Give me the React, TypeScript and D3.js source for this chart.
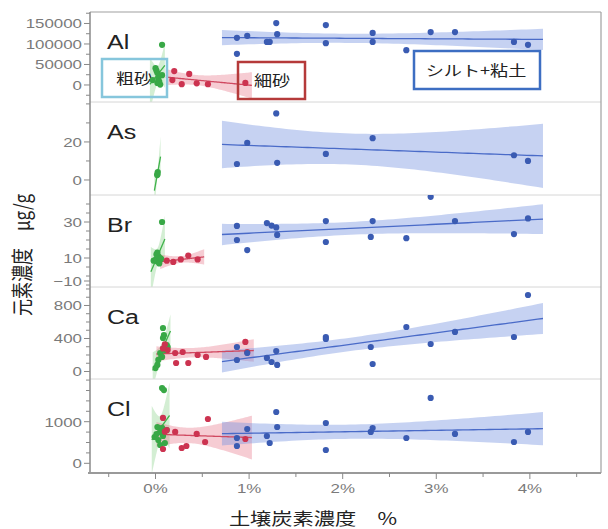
import React from 'react';
import * as d3 from 'd3';

type P = [number, number];

// ---------- data ----------
const elementNames = ['Al', 'As', 'Br', 'Ca', 'Cl'];
const xTickValues = [0, 1, 2, 3, 4];
const xMinorTicks = [-0.5, 0.5, 1.5, 2.5, 3.5, 4.5];
const xDomain = [-0.7, 4.76];

const alDomain = [-41500, 178000];
const asDomain = [-7.9, 41];
const brDomain = [-6.1, 45];
const caDomain = [-91, 1024];
const clDomain = [-233, 2026];

const alTicks = [0, 50000, 100000, 150000];
const asTicks = [0, 20];
const brTicks = [-10, 10, 30];
const caTicks = [0, 400, 800];
const clTicks = [0, 1000];
const minorSteps = [25000, 10, 5, 100, 250];

// 粗砂 (coarse sand)
const alCoarse: P[] = [[0.07, 98000], [0.0, 41000], [0.02, 29000], [0.03, 17000], [0.02, 5000], [0.05, 1000], [-0.03, 12000], [0.07, 24000], [0.01, 35000], [0.04, 8000]];
const asCoarse: P[] = [[0.018, 2.6], [0.024, 4.2], [0.02, 3.0]];
const brCoarse: P[] = [[0.07, 30], [0.0, 9], [0.02, 8], [0.03, 11], [0.01, 12], [0.04, 7], [0.05, 10], [-0.02, 8.5], [0.06, 9.5], [0.02, 13]];
const caCoarse: P[] = [[0.08, 527], [0.09, 440], [0.12, 320], [0.1, 260], [0.05, 224], [0.02, 79], [0.0, 42], [0.03, 140], [0.07, 176], [0.13, 297], [0.08, 406]];
const clCoarse: P[] = [[0.07, 1810], [0.09, 1760], [0.02, 873], [0.05, 753], [0.08, 656], [0.03, 560], [0.1, 488], [-0.01, 632], [0.12, 800], [0.05, 440], [0.01, 700], [0.07, 850]];

// 細砂 (fine sand)
const alFine: P[] = [[0.18, 12000], [0.2, 34000], [0.28, 2000], [0.36, 27000], [0.44, 4000], [0.56, 2000], [0.96, 5000]];
const asFine: P[] = [];
const brFine: P[] = [[0.12, 8.5], [0.19, 7.8], [0.27, 9.2], [0.35, 11.4], [0.45, 9.2]];
const caFine: P[] = [[0.21, 224], [0.29, 236], [0.22, 103], [0.35, 103], [0.45, 200], [0.54, 176], [0.96, 358], [0.98, 236], [0.13, 260], [0.1, 330], [0.08, 280]];
const clFine: P[] = [[0.08, 1090], [0.21, 753], [0.28, 368], [0.33, 416], [0.44, 705], [0.53, 512], [0.56, 1065], [0.96, 584], [0.08, 344], [0.12, 800], [0.1, 760]];

// シルト+粘土 (silt + clay)
const alSilt: P[] = [[0.87, 115000], [0.87, 76000], [0.98, 120000], [1.19, 105000], [1.22, 105000], [1.29, 151000], [1.3, 124000], [1.82, 146000], [1.82, 102000], [2.32, 127000], [2.32, 105000], [2.68, 85000], [2.94, 129000], [3.2, 129000], [3.83, 105000], [3.98, 98000]];
const asSilt: P[] = [[0.87, 8.4], [0.98, 19.5], [1.29, 35], [1.3, 9], [1.82, 13.7], [2.32, 22], [3.83, 13], [3.98, 10]];
const brSilt: P[] = [[0.87, 27.8], [0.87, 20], [0.98, 14.4], [1.19, 29.4], [1.24, 28], [1.29, 27], [1.3, 22.8], [1.82, 30.5], [1.82, 18.9], [2.32, 30.5], [2.3, 21.7], [2.68, 21], [2.94, 44], [3.2, 30.5], [3.83, 23.3], [3.98, 32]];
const caSilt: P[] = [[0.87, 297], [0.87, 139], [0.98, 224], [1.19, 164], [1.24, 115], [1.29, 248], [1.3, 79], [1.82, 418], [1.82, 394], [2.3, 297], [2.32, 91], [2.68, 539], [2.94, 333], [3.2, 479], [3.83, 418], [3.98, 927]];
const clSilt: P[] = [[0.87, 608], [0.87, 416], [0.98, 825], [1.19, 656], [1.22, 488], [1.29, 1233], [1.3, 873], [1.82, 969], [1.82, 320], [2.3, 753], [2.32, 849], [2.68, 608], [2.94, 1570], [3.2, 705], [3.83, 512], [3.98, 753]];

const groupLabels = ['粗砂', '細砂', 'シルト+粘土'];

// ---------- layout & style ----------
const W = 608;
const H = 529;
const L = { left: 90, right: 601, tops: [12, 102, 195, 287, 379], bottom: 473 };
const SX = 1.25; // horizontal stretch of the original picture
const latin = 'Liberation Sans, Arial, sans-serif';
const cjk = 'Noto Sans CJK JP, sans-serif';
const groupStyle = [
  { dot: '#38a846', line: '#3fb24a', band: 'rgb(110,200,110)', bandOp: 0.3, pad: 0.03 },
  { dot: '#cc3350', line: '#d04860', band: 'rgb(232,120,140)', bandOp: 0.38, pad: 0.07 },
  { dot: '#3a5bb2', line: '#4a6bc8', band: 'rgb(120,148,225)', bandOp: 0.42, pad: 0.16 },
];

const tTable = [12.71, 4.3, 3.18, 2.78, 2.57, 2.45, 2.36, 2.31, 2.26, 2.23, 2.2, 2.18, 2.16, 2.14, 2.13, 2.12, 2.11, 2.1, 2.09, 2.09];

function fitLine(pts: P[], pad: number) {
  const n = pts.length;
  if (n < 3) return null;
  const mx = d3.mean(pts, (d) => d[0]) as number;
  const my = d3.mean(pts, (d) => d[1]) as number;
  let sxx = 0, sxy = 0;
  for (const [x, y] of pts) { sxx += (x - mx) ** 2; sxy += (x - mx) * (y - my); }
  const b = sxy / sxx;
  const a = my - b * mx;
  let sse = 0;
  for (const [x, y] of pts) sse += (y - a - b * x) ** 2;
  const s = Math.sqrt(sse / (n - 2));
  const t = tTable[n - 3] ?? 2.05;
  const [x0, x1] = d3.extent(pts, (d) => d[0]) as [number, number];
  const lo = x0 - pad, hi = x1 + pad;
  return d3.range(61).map((i) => {
    const x = lo + ((hi - lo) * i) / 60;
    const yh = a + b * x;
    const se = s * Math.sqrt(1 / n + (x - mx) ** 2 / sxx);
    return { x, y: yh, y0: yh - t * se, y1: yh + t * se };
  });
}

const STxt = (p: { x: number; y: number; anchor?: string; size: number; fill?: string; family?: string; children: React.ReactNode; rotate?: number; baseline?: string }) => (
  <text
    transform={`translate(${p.x},${p.y}) scale(${SX},1)${p.rotate ? ` rotate(${p.rotate})` : ''}`}
    textAnchor={p.anchor || 'start'}
    fontSize={p.size}
    fill={p.fill || '#222'}
    fontFamily={p.family || latin}
    dominantBaseline={p.baseline as any}
  >
    {p.children}
  </text>
);

export default function App() {
  const x = d3.scaleLinear().domain(xDomain).range([L.left, L.right]);
  const domains = [alDomain, asDomain, brDomain, caDomain, clDomain];
  const ticks = [alTicks, asTicks, brTicks, caTicks, clTicks];
  const series = [
    [alCoarse, alFine, alSilt],
    [asCoarse, asFine, asSilt],
    [brCoarse, brFine, brSilt],
    [caCoarse, caFine, caSilt],
    [clCoarse, clFine, clSilt],
  ];
  const bottoms = [...L.tops.slice(1), L.bottom];
  const fmt = d3.format('d');

  return (
    <svg width={W} height={H} style={{ position: 'absolute', left: 0, top: 0, background: '#fff' }}>
      <defs>
        {elementNames.map((e, i) => (
          <clipPath id={`clip${i}`} key={e}>
            <rect x={L.left} y={L.tops[i]} width={L.right - L.left} height={bottoms[i] - L.tops[i]} />
          </clipPath>
        ))}
      </defs>

      {elementNames.map((name, i) => {
        const top = L.tops[i];
        const bot = bottoms[i];
        const y = d3.scaleLinear().domain(domains[i]).range([bot, top]);
        const band = d3.area<any>().x((d) => x(d.x)).y0((d) => y(d.y0)).y1((d) => y(d.y1));
        const line = d3.line<any>().x((d) => x(d.x)).y((d) => y(d.y));
        const fits = series[i].map((pts, g) => fitLine(pts, groupStyle[g].pad));
        const [d0, d1] = domains[i];
        const step = minorSteps[i];
        const minors = d3.range(Math.ceil(d0 / step) * step, d1, step).filter((v) => !ticks[i].includes(v));
        const clampY = (v: number) => Math.min(Math.max(y(v), top + 6), bot - 6);
        return (
          <g key={name}>
            {i > 0 && <line x1={L.left} x2={L.right} y1={top} y2={top} stroke="#d6d6d6" strokeWidth={1} />}
            <g clipPath={`url(#clip${i})`}>
              {fits.map((f, g) => f && (
                <path key={`b${g}`} d={band(f) || ''} fill={groupStyle[g].band} fillOpacity={groupStyle[g].bandOp} />
              ))}
              {fits.map((f, g) => f && (
                <path key={`l${g}`} d={line(f) || ''} fill="none" stroke={groupStyle[g].line} strokeWidth={1.3} />
              ))}
            </g>
            {i === 0 && (
              <g>
                <rect x={102} y={59} width={65} height={38} fill="none" stroke="#86c6dc" strokeWidth={2.5} />
                <rect x={238} y={62} width={67} height={37} fill="none" stroke="#b53a3a" strokeWidth={2.5} />
                <rect x={414} y={51} width={126} height={38} fill="none" stroke="#3d6ec2" strokeWidth={2.5} />
                <STxt x={134} y={84} anchor="middle" size={14.5} family={cjk}>{groupLabels[0]}</STxt>
                <STxt x={272} y={86} anchor="middle" size={14.5} family={cjk}>{groupLabels[1]}</STxt>
                <STxt x={476} y={76} anchor="middle" size={14.5} family={cjk}>{groupLabels[2]}</STxt>
              </g>
            )}
            <g clipPath={`url(#clip${i})`}>
              {series[i].map((pts, g) => pts.map((p, k) => (
                <circle key={`${g}-${k}`} cx={x(p[0])} cy={y(p[1])} r={3.1} fill={groupStyle[g].dot} />
              )))}
            </g>
            <STxt x={107} y={top + 37} size={20}>{name}</STxt>
            {minors.map((v) => (
              <line key={`m${v}`} x1={L.left - 4} x2={L.left} y1={y(v)} y2={y(v)} stroke="#888" strokeWidth={1} />
            ))}
            {ticks[i].map((v) => (
              <g key={`t${v}`}>
                <line x1={L.left - 6} x2={L.left} y1={clampY(v)} y2={clampY(v)} stroke="#888" strokeWidth={1} />
                <STxt x={L.left - 8} y={clampY(v) + 5} anchor="end" size={13.5} fill="#7a7a7a">{fmt(v)}</STxt>
              </g>
            ))}
          </g>
        );
      })}

      {/* frame */}
      <line x1={L.left} x2={L.right} y1={L.tops[0]} y2={L.tops[0]} stroke="#a0a0a0" strokeWidth={1.2} />
      <line x1={L.right} x2={L.right} y1={L.tops[0]} y2={L.bottom} stroke="#a0a0a0" strokeWidth={1.2} />
      <line x1={L.left} x2={L.left} y1={L.tops[0]} y2={L.bottom} stroke="#8a8a8a" strokeWidth={1.5} />
      <line x1={L.left - 2} x2={L.right} y1={L.bottom} y2={L.bottom} stroke="#9a9a9a" strokeWidth={2} />

      {/* x axis */}
      {xMinorTicks.map((v) => (
        <line key={`xm${v}`} x1={x(v)} x2={x(v)} y1={L.bottom} y2={L.bottom + 4} stroke="#888" strokeWidth={1} />
      ))}
      {xTickValues.map((v) => (
        <g key={`x${v}`}>
          <line x1={x(v)} x2={x(v)} y1={L.bottom} y2={L.bottom + 6} stroke="#888" strokeWidth={1} />
          <STxt x={x(v)} y={L.bottom + 20} anchor="middle" size={13.5} fill="#7a7a7a">{`${v}%`}</STxt>
        </g>
      ))}

      <STxt x={313} y={525} anchor="middle" size={17} family={cjk}>土壌炭素濃度　%</STxt>
      <STxt x={21} y={255} anchor="middle" size={17} family={cjk} rotate={-90} baseline="central">元素濃度　μg/g</STxt>
    </svg>
  );
}
